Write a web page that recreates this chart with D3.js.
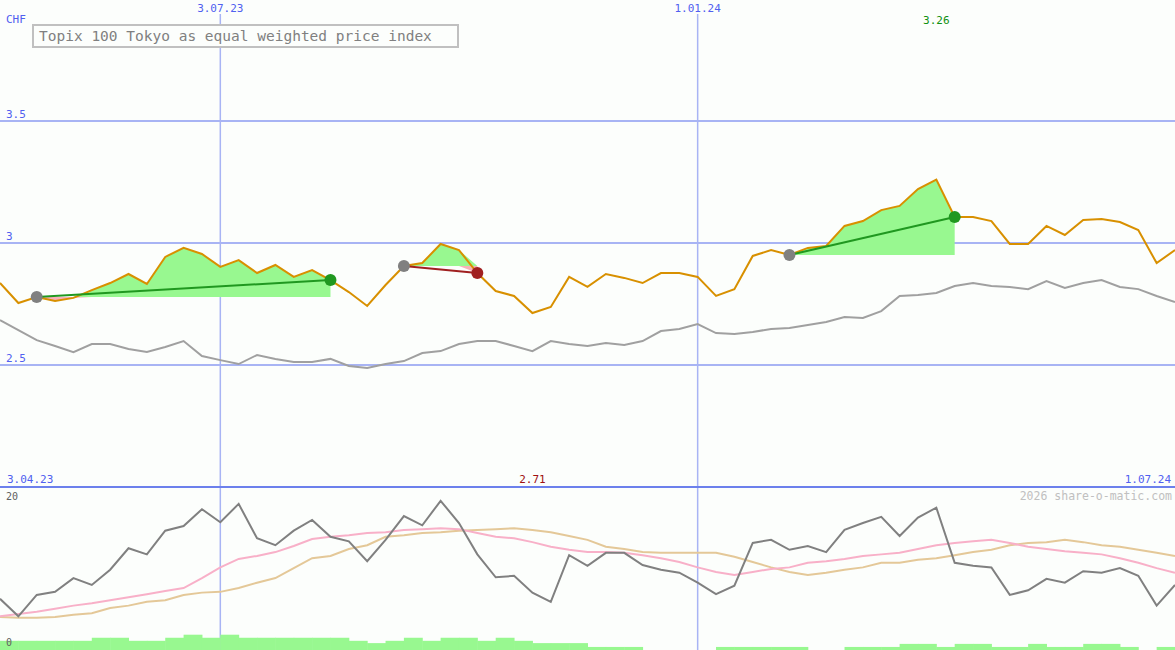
<!DOCTYPE html>
<html>
<head>
<meta charset="utf-8">
<script src="https://cdn.jsdelivr.net/npm/d3@7"></script>
<style>
body { margin: 0; background: #fcfefc; }
text { font-family: "DejaVu Sans Mono", monospace; }
</style>
</head>
<body>
<svg id="chart" width="1175" height="650"></svg>
<script>
// weekly price, CHF
var price = [2.836,2.754,2.779,2.762,2.775,2.807,2.836,2.873,2.832,2.943,
  2.980,2.955,2.902,2.930,2.877,2.910,2.861,2.889,2.848,2.799,
  2.742,2.828,2.906,2.918,2.996,2.971,2.877,2.803,2.783,2.713,
  2.738,2.861,2.820,2.873,2.857,2.836,2.877,2.877,2.861,2.783,
  2.811,2.947,2.971,2.951,2.980,2.988,3.070,3.090,3.135,3.152,
  3.221,3.260,3.107,3.107,3.090,2.996,2.996,3.070,3.033,3.094,
  3.098,3.086,3.053,2.918,2.971];
// benchmark
var bench = [2.684,2.643,2.602,2.578,2.553,2.586,2.586,2.566,2.553,2.574,
  2.598,2.537,2.520,2.504,2.541,2.525,2.512,2.512,2.525,2.496,
  2.488,2.504,2.516,2.549,2.557,2.586,2.598,2.598,2.578,2.557,
  2.598,2.586,2.578,2.590,2.582,2.598,2.639,2.648,2.668,2.631,
  2.627,2.635,2.648,2.652,2.664,2.676,2.697,2.693,2.721,2.783,
  2.787,2.795,2.824,2.836,2.824,2.820,2.811,2.844,2.816,2.836,
  2.848,2.820,2.811,2.783,2.758];
// oscillator and its averages (lower panel)
var osc = [6.7,4.4,7.2,7.6,9.4,8.5,10.5,13.3,12.5,15.6,
  16.2,18.4,16.7,19.1,14.6,13.7,15.6,17.0,14.8,14.2,
  11.6,14.4,17.5,16.3,19.5,16.6,12.5,9.5,9.7,7.5,
  6.3,12.4,11.0,12.7,12.7,11.1,10.5,10.1,8.8,7.3,
  8.4,14.0,14.4,13.1,13.6,12.8,15.7,16.6,17.4,14.9,
  17.3,18.6,11.4,11.0,10.8,7.2,7.8,9.3,8.8,10.3,
  10.1,10.7,9.7,5.8,8.5];
var avgFast = [4.4,4.7,5.0,5.4,5.8,6.1,6.5,6.9,7.3,7.7,
  8.1,9.4,10.8,11.9,12.3,12.8,13.6,14.5,14.8,15.0,
  15.3,15.4,15.7,15.8,15.9,15.8,15.3,14.8,14.6,14.1,
  13.5,13.1,12.8,12.8,12.7,12.4,12.0,11.5,10.8,10.2,
  9.8,10.2,10.6,10.8,11.4,11.6,11.9,12.3,12.5,12.7,
  13.2,13.7,14.0,14.2,14.4,14.0,13.5,13.2,12.9,12.7,
  12.5,12.0,11.4,10.7,10.1];
var avgSlow = [4.3,4.2,4.2,4.3,4.6,4.8,5.5,5.8,6.3,6.5,
  7.2,7.5,7.6,8.1,8.8,9.4,10.7,12.0,12.3,13.2,
  13.7,14.8,15.0,15.3,15.4,15.6,15.7,15.8,15.9,15.7,
  15.4,14.9,14.4,13.5,13.2,12.8,12.7,12.7,12.7,12.7,
  12.2,11.5,10.8,10.2,9.8,10.1,10.5,10.8,11.4,11.4,
  11.8,12.0,12.4,12.8,13.1,13.7,14.0,14.1,14.4,14.1,
  13.7,13.5,13.1,12.7,12.3];
var volume = [1.2,1.2,1.2,1.2,1.2,1.6,1.6,1.2,1.2,1.6,
  2.0,1.6,2.0,1.6,1.6,1.6,1.6,1.6,1.6,1.2,
  0.9,1.2,1.6,1.2,1.6,1.6,1.2,1.6,1.2,0.9,
  0.9,0.9,0.4,0.4,0.4,0,0,0,0,0.4,
  0.4,0.4,0.4,0.4,0,0,0.4,0.4,0.4,0.8,
  0.8,0.4,0.8,0.8,0.4,0.4,0.8,0.4,0.4,0.8,
  0.8,0.4,0,0.4];
// trades: start index, end index
var trades = [[2, 18], [22, 26], [43, 52]];
var yTicks = [3.5, 3, 2.5];
var dateLabels = ["3.07.23", "1.01.24"];
var dateIdx = [12, 38];

var W = 1175, H = 650;
var svg = d3.select("#chart");

var x = d3.scaleLinear().domain([0, price.length - 1]).range([0, W]);
var y = d3.scaleLinear().domain([2.0, 3.996]).range([487, 0]);
var y2 = d3.scaleLinear().domain([0, 20]).range([650, 497]);

var grid = "#a8b4f4";

// horizontal grid
yTicks.forEach(function(t) {
  svg.append("line").attr("x1", 0).attr("x2", W)
    .attr("y1", y(t)).attr("y2", y(t))
    .attr("stroke", grid).attr("stroke-width", 2);
  svg.append("text").attr("x", 6).attr("y", y(t) - 3)
    .attr("fill", "#5060f0").attr("font-size", 11).text(t);
});
// vertical grid
dateIdx.forEach(function(d, i) {
  svg.append("line").attr("x1", x(d)).attr("x2", x(d))
    .attr("y1", 14).attr("y2", H)
    .attr("stroke", grid).attr("stroke-width", 1.5);
  svg.append("text").attr("x", x(d)).attr("y", 12).attr("text-anchor", "middle")
    .attr("fill", "#5060f0").attr("font-size", 11).text(dateLabels[i]);
});
svg.append("line").attr("x1", 0).attr("x2", W).attr("y1", 487).attr("y2", 487)
  .attr("stroke", "#6c80ec").attr("stroke-width", 2);

svg.append("text").attr("x", 6).attr("y", 23).attr("fill", "#5060f0").attr("font-size", 11).text("CHF");
svg.append("text").attr("x", 7).attr("y", 483).attr("fill", "#5060f0").attr("font-size", 11).text("3.04.23");
svg.append("text").attr("x", W - 4).attr("y", 483).attr("text-anchor", "end").attr("fill", "#5060f0").attr("font-size", 11).text("1.07.24");

// max / min labels
var iMax = d3.maxIndex(price), iMin = d3.minIndex(price);
svg.append("text").attr("x", x(iMax)).attr("y", 24).attr("text-anchor", "middle")
  .attr("fill", "#109010").attr("font-size", 11).text(d3.max(price).toFixed(2));
svg.append("text").attr("x", x(iMin)).attr("y", 483).attr("text-anchor", "middle")
  .attr("fill", "#a01010").attr("font-size", 11).text(d3.min(price).toFixed(2));

// title
svg.append("rect").attr("x", 33).attr("y", 25).attr("width", 425).attr("height", 22)
  .attr("fill", "#fcfefc").attr("stroke", "#c0c0c0").attr("stroke-width", 2);
svg.append("text").attr("x", 39).attr("y", 41).attr("fill", "#808080").attr("font-size", 14.5)
  .text("Topix 100 Tokyo as equal weighted price index");

// trade areas
trades.forEach(function(t) {
  var s = t[0], e = t[1], base = price[s];
  var idx = d3.range(s, e + 1);
  svg.append("path").datum(idx)
    .attr("d", d3.area().x(function(i) { return x(i); }).y0(y(base))
      .y1(function(i) { return y(Math.max(price[i], base)); }))
    .attr("fill", "#98f890");
  svg.append("path").datum(idx)
    .attr("d", d3.area().x(function(i) { return x(i); }).y0(y(base))
      .y1(function(i) { return y(Math.min(price[i], base)); }))
    .attr("fill", "#f8b0b8");
});

var line = d3.line().x(function(d, i) { return x(i); });
svg.append("path").datum(bench).attr("d", line.y(function(d) { return y(d); }))
  .attr("fill", "none").attr("stroke", "#a0a0a0").attr("stroke-width", 2);
svg.append("path").datum(price).attr("d", line.y(function(d) { return y(d); }))
  .attr("fill", "none").attr("stroke", "#d89000").attr("stroke-width", 2);

// trade lines and dots
trades.forEach(function(t) {
  var s = t[0], e = t[1];
  var win = price[e] >= price[s];
  var c = win ? "#209820" : "#a02020";
  svg.append("line").attr("x1", x(s)).attr("y1", y(price[s]))
    .attr("x2", x(e)).attr("y2", y(price[e]))
    .attr("stroke", c).attr("stroke-width", 2);
  svg.append("circle").attr("cx", x(s)).attr("cy", y(price[s])).attr("r", 6).attr("fill", "#808080");
  svg.append("circle").attr("cx", x(e)).attr("cy", y(price[e])).attr("r", 6).attr("fill", c);
});

// lower panel
var step = x(1) - x(0);
svg.selectAll(".vol").data(volume).enter().append("rect")
  .attr("x", function(d, i) { return x(i); })
  .attr("width", step + 0.5)
  .attr("y", function(d) { return y2(d); })
  .attr("height", function(d) { return y2(0) - y2(d); })
  .attr("fill", "#98f890");

svg.append("path").datum(avgSlow).attr("d", line.y(function(d) { return y2(d); }))
  .attr("fill", "none").attr("stroke", "#e4c898").attr("stroke-width", 2);
svg.append("path").datum(avgFast).attr("d", line.y(function(d) { return y2(d); }))
  .attr("fill", "none").attr("stroke", "#f8b0c8").attr("stroke-width", 2);
svg.append("path").datum(osc).attr("d", line.y(function(d) { return y2(d); }))
  .attr("fill", "none").attr("stroke", "#808080").attr("stroke-width", 2);

svg.append("text").attr("x", 6).attr("y", 500).attr("fill", "#606060").attr("font-size", 10).text("20");
svg.append("text").attr("x", 6).attr("y", 646).attr("fill", "#606060").attr("font-size", 10).text("0");
svg.append("text").attr("x", W - 3).attr("y", 500).attr("text-anchor", "end")
  .attr("fill", "#c0c0c0").attr("font-size", 11.5).text("2026 share-o-matic.com");
</script>
</body>
</html>
